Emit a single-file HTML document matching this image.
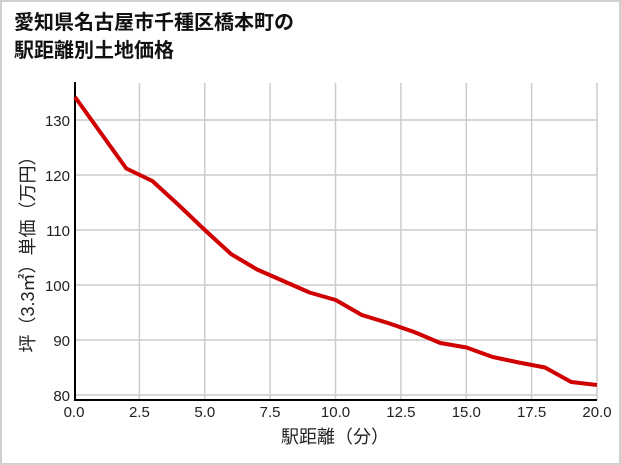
<!DOCTYPE html>
<html><head><meta charset="utf-8"><style>
body{margin:0;background:#fff}
svg{display:block;font-family:"Liberation Sans","Noto Sans CJK JP",sans-serif}
</style></head><body>
<svg width="621" height="465" viewBox="0 0 621 465">
<rect x="1" y="1" width="619" height="463" fill="#fff" stroke="#d0d0d0" stroke-width="2"/>
<text x="14" y="29" font-size="20" font-weight="bold" fill="#111">愛知県名古屋市千種区橋本町の</text>
<text x="14" y="57" font-size="20" font-weight="bold" fill="#111">駅距離別土地価格</text>
<g stroke="#cccccc" stroke-width="1.5">
<line x1="74" y1="120" x2="597" y2="120"/>
<line x1="74" y1="175" x2="597" y2="175"/>
<line x1="74" y1="230" x2="597" y2="230"/>
<line x1="74" y1="285" x2="597" y2="285"/>
<line x1="74" y1="340" x2="597" y2="340"/>
<line x1="74" y1="395" x2="597" y2="395"/>
<line x1="139.4" y1="83" x2="139.4" y2="400"/>
<line x1="204.8" y1="83" x2="204.8" y2="400"/>
<line x1="270.1" y1="83" x2="270.1" y2="400"/>
<line x1="335.5" y1="83" x2="335.5" y2="400"/>
<line x1="400.9" y1="83" x2="400.9" y2="400"/>
<line x1="466.3" y1="83" x2="466.3" y2="400"/>
<line x1="531.6" y1="83" x2="531.6" y2="400"/>
<line x1="597" y1="83" x2="597" y2="400"/>
</g>
<line x1="75" y1="82" x2="75" y2="401" stroke="#000" stroke-width="2"/>
<line x1="74" y1="400" x2="597" y2="400" stroke="#000" stroke-width="2"/>
<polyline fill="none" stroke="#d00000" stroke-width="4" stroke-linejoin="round"
points="75,97 126.3,168.5 152.4,181 178.6,205 204.8,230 231,254 257.1,269.5 283.3,281 309.5,292.5 335.7,300 361.8,315 388,323 414.2,332 440.3,343 466.5,347.5 492.7,357 518.8,362.5 545,367.5 571.2,382 597,385"/>
<g font-size="15" fill="#222" text-anchor="end">
<text x="70" y="126">130</text><text x="70" y="181">120</text><text x="70" y="236">110</text>
<text x="70" y="291">100</text><text x="70" y="346">90</text><text x="70" y="401">80</text>
</g>
<g font-size="15" fill="#222" text-anchor="middle">
<text x="74" y="417">0.0</text><text x="139.4" y="417">2.5</text><text x="204.8" y="417">5.0</text>
<text x="270.1" y="417">7.5</text><text x="335.5" y="417">10.0</text><text x="400.9" y="417">12.5</text>
<text x="466.3" y="417">15.0</text><text x="531.6" y="417">17.5</text><text x="597" y="417">20.0</text>
</g>
<text x="335" y="443" font-size="18" fill="#222" text-anchor="middle">駅距離（分）</text>
<text transform="translate(34,250) rotate(-90)" font-size="18" fill="#222" text-anchor="middle">坪（3.3㎡）単価（万円）</text>
</svg>
</body></html>
